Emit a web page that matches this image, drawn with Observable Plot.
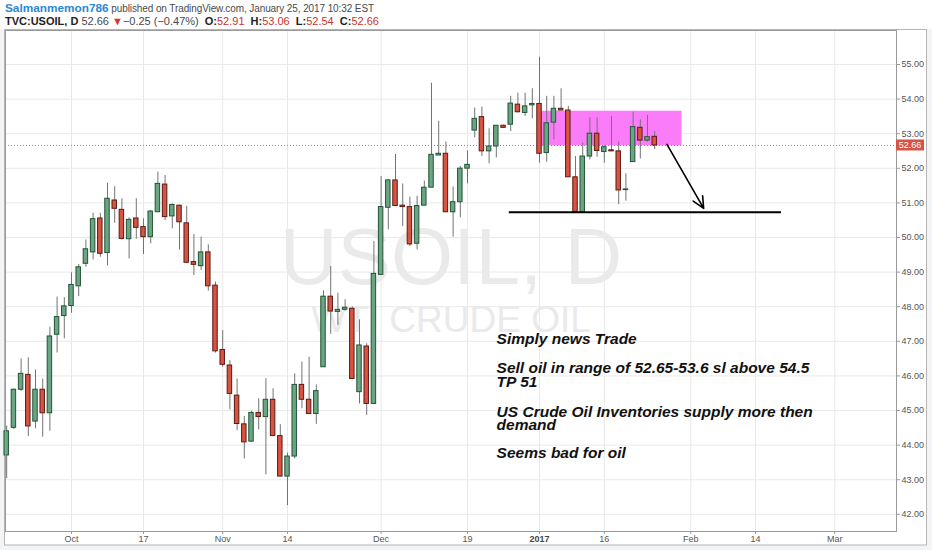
<!DOCTYPE html>
<html><head><meta charset="utf-8">
<script src="https://cdn.jsdelivr.net/npm/d3@7"></script>
<script src="https://cdn.jsdelivr.net/npm/@observablehq/plot@0.6"></script>
<style>
html,body{margin:0;padding:0;background:#f2f4f5;width:932px;height:550px;overflow:hidden;font-family:"Liberation Sans",Arial,sans-serif;}
#hdr{background:#fff;height:29px;width:932px;position:relative;font-size:11px;color:#4a4a4a;white-space:nowrap;}
#hdr .l1{position:absolute;left:5px;top:1px;font-size:10px;letter-spacing:-0.1px;}
#hdr .l2{position:absolute;left:5px;top:15px;}
#hdr b{color:#222;}
#hdr .g{margin-left:3px;}
#hdr .user{color:#2a88d2;font-weight:bold;font-size:11.8px;letter-spacing:0;}
#hdr .r{color:#c9352b;}
#chart{display:block;}
</style></head>
<body>
<div id="hdr">
  <div class="l1"><span class="user">Salmanmemon786</span> published on TradingView.com, January 25, 2017 10:32 EST</div>
  <div class="l2"><b>TVC:USOIL, D</b> 52.66 <span style="color:#e0302a">▼</span>−0.25 (−0.47%) <b class="g">O:</b><span class="r">52.91</span> <b class="g">H:</b><span class="r">53.06</span> <b class="g">L:</b><span class="r">52.54</span> <b class="g">C:</b><span class="r">52.66</span></div>
</div>
<div id="chart"></div>
<script>
// Daily candles (bar 1 = Sep 21 2016 ... bar 91 = Jan 25 2017)
const opens  = [43.70,44.50,45.60,46.03,44.68,45.60,44.92,47.19,47.73,48.02,48.59,49.24,49.57,50.55,49.55,51.07,50.80,49.95,50.55,50.30,
                50.01,50.73,51.53,50.61,50.92,50.41,49.29,49.17,49.57,48.61,46.75,46.30,45.43,44.60,44.10,44.93,44.81,45.31,44.26,43.09,
                43.67,45.74,45.31,44.90,46.25,48.29,47.85,47.91,47.94,45.53,46.85,45.19,48.92,50.86,51.65,50.92,50.88,49.82,50.92,51.44,
                52.37,52.42,50.73,51.02,51.99,53.09,53.48,52.49,52.63,53.23,53.26,53.84,53.60,53.82,53.86,52.44,53.32,53.72,53.67,51.74,
                50.73,52.34,53.00,52.47,52.52,52.49,51.37,52.18,53.17,52.80,52.91];
const highs  = [44.55,45.62,46.49,46.52,46.17,45.91,47.41,48.28,48.26,48.98,49.22,49.93,50.70,50.70,51.57,51.47,51.12,50.57,51.12,50.54,
                50.78,51.89,51.79,50.97,50.93,50.90,50.09,50.01,49.79,48.71,47.31,46.44,45.91,44.83,44.98,45.34,45.92,45.63,44.59,43.77,
                46.06,46.40,46.54,45.74,48.46,49.16,48.39,48.20,47.99,47.62,46.93,49.88,51.76,51.67,52.40,51.55,51.17,51.19,51.63,54.46,
                53.36,52.76,51.46,52.05,52.50,53.74,53.77,53.14,53.23,53.25,54.08,54.17,54.17,54.30,55.21,54.08,54.08,54.30,53.79,52.34,
                52.73,53.46,53.46,52.66,53.50,52.76,51.84,53.62,53.40,53.53,53.06];
const lows   = [43.03,44.45,45.55,44.25,44.47,44.23,44.40,46.66,47.07,47.81,48.29,49.14,49.35,49.43,49.18,50.41,49.93,49.38,49.95,49.51,
                49.82,50.73,50.49,50.25,49.64,49.25,48.90,49.05,48.45,46.66,46.25,45.02,44.42,43.60,44.08,44.44,43.14,44.26,43.09,42.25,
                43.60,45.05,44.90,44.60,46.25,47.20,47.46,47.87,45.91,45.19,44.86,45.19,48.92,50.22,50.91,50.32,49.74,49.64,50.92,51.44,
                52.37,50.73,50.01,50.57,51.55,52.88,52.34,52.13,52.30,53.15,53.06,53.60,53.50,53.43,52.15,52.18,52.82,53.67,51.74,50.73,
                50.73,52.24,52.32,52.15,52.49,50.95,51.05,52.18,52.27,52.76,52.54];
const closes = [44.40,45.60,46.06,44.54,45.60,44.92,47.14,47.70,48.01,48.63,49.14,49.66,50.53,49.53,51.12,50.83,49.96,50.51,50.28,50.01,
                50.75,51.55,50.59,50.94,50.44,49.27,49.21,49.57,48.59,46.71,46.32,45.48,44.61,44.08,44.93,44.81,45.31,44.26,43.09,43.67,
                45.74,45.31,44.90,45.56,48.29,47.86,47.91,47.97,45.91,46.88,45.19,48.95,50.88,51.65,50.91,50.88,49.80,50.91,51.44,52.39,
                52.42,50.73,51.02,51.99,52.10,53.43,52.49,52.63,53.23,53.17,53.87,53.62,53.79,53.86,52.42,53.30,53.72,53.67,51.74,50.73,
                52.34,53.00,52.50,52.61,52.49,51.36,51.39,53.19,52.80,52.90,52.66];

const tickBars   = [10, 20, 31, 40, 53, 65, 75, 84, 96, 105, 116];
const tickLabels = ["Oct","17","Nov","14","Dec","19","2017","16","Feb","14","Mar"];
const priceTicks = [42,43,44,45,46,47,48,49,50,51,52,53,54,55];
const lastPrice  = 52.66;

// Drawings
const sellZone    = [{bar1: 75, bar2: 94.8, low: 52.65, high: 53.65}];
const supportLine = [{bar1: 70.8, bar2: 108.6, price: 50.73}];
const targetArrow = [{bar1: 92.7, p1: 52.69, bar2: 97.8, p2: 50.84}];
const noteBar    = 69.04;
const noteTexts  = ["Simply news Trade",
                    "Sell oil in range of 52.65-53.6 sl above 54.5\nTP 51",
                    "US Crude Oil Inventories supply more then\ndemand",
                    "Seems bad for oil"];
const notePrices = [46.91, 45.69, 44.44, 43.62];

const candles = opens.map((o, k) => ({bar: k + 1, open: o, high: highs[k], low: lows[k], close: closes[k], up: closes[k] >= o}));
const notes = noteTexts.map((t, k) => ({text: t, price: notePrices[k]}));
const labelOf = new Map(tickBars.map((b, k) => [b, tickLabels[k]]));

const UP = "#6ba583", UPB = "#225437", DN = "#d75442", DNB = "#5b1a13";
const FONT = "Liberation Sans, Arial, sans-serif";

const chart = Plot.plot({
  width: 932, height: 521,
  marginLeft: 5, marginRight: 36, marginTop: 1, marginBottom: 19,
  style: {fontFamily: FONT, background: "transparent", overflow: "visible"},
  x: {type: "linear", domain: [0.833, 124.58], axis: null},
  y: {type: "linear", domain: [41.503, 55.983], axis: null},
  marks: [
    Plot.gridX(tickBars, {stroke: "#e9e9e9", strokeOpacity: 1}),
    Plot.gridY(priceTicks, {stroke: "#e9e9e9", strokeOpacity: 1}),
    Plot.text(["USOIL, D"], {frameAnchor: "middle", dy: -22.5, fontSize: 80, fill: "#eaeaea", fontFamily: FONT}),
    Plot.text(["WTI CRUDE OIL"], {frameAnchor: "middle", dy: 39, fontSize: 37, fill: "#eaeaea", fontFamily: FONT}),
    Plot.rect(sellZone, {x1: "bar1", x2: "bar2", y1: "low", y2: "high", fill: "#fb7cf9"}),
    Plot.ruleY([lastPrice], {stroke: "#dd6a57", strokeDasharray: "1,2", strokeWidth: 1}),
    Plot.ruleX(candles, {x: "bar", y1: "low", y2: "high", stroke: "#737375", strokeWidth: 1}),
    Plot.rect(candles, {x1: d => d.bar - 0.31, x2: d => d.bar + 0.31, y1: "open", y2: "close",
      fill: d => d.up ? UP : DN, stroke: d => d.up ? UPB : DNB, strokeWidth: 1}),
    Plot.ruleY(supportLine, {y: "price", x1: "bar1", x2: "bar2", stroke: "#000", strokeWidth: 2}),
    Plot.arrow(targetArrow, {x1: "bar1", y1: "p1", x2: "bar2", y2: "p2", stroke: "#000", strokeWidth: 1.6, headLength: 12, headAngle: 50}),
    Plot.text(notes, {x: () => noteBar, y: "price", text: "text", textAnchor: "start", lineAnchor: "bottom", lineHeight: 0.86,
      fontSize: 15.5, fontWeight: "bold", fontStyle: "italic", fill: "#111", fontFamily: FONT}),
    Plot.frame({stroke: "#9a9a9a"}),
    Plot.axisX(tickBars.filter(b => b !== 75), {anchor: "bottom", tickFormat: b => labelOf.get(b), tickSize: 3, tickPadding: 1.5, fontSize: 9, color: "#555", stroke: "#999"}),
    Plot.axisX([75], {anchor: "bottom", tickFormat: b => labelOf.get(b), tickSize: 3, tickPadding: 1.5, fontSize: 9, fontWeight: "bold", color: "#444", stroke: "#999"}),
    Plot.axisY(priceTicks, {anchor: "right", tickFormat: d => d.toFixed(2), tickSize: 3, tickPadding: 2, fontSize: 9, color: "#555", stroke: "#999"})
  ]
});

// chart frame (white panel) behind the plot
const svg = d3.select(chart);
svg.insert("rect", ":first-child")
  .attr("x", 4.5).attr("y", 0.5).attr("width", 922).attr("height", 515.5)
  .attr("fill", "#fff").attr("stroke", "#b5b5b5");

// last price label on the price scale
const yS = chart.scale("y");
const yp = yS.apply(lastPrice);
const g = svg.append("g");
g.append("rect").attr("x", 896).attr("y", yp - 5.5).attr("width", 28).attr("height", 11).attr("fill", DN);
g.append("text").attr("x", 910).attr("y", yp).attr("dy", "0.35em").attr("text-anchor", "middle")
  .attr("fill", "#fff").attr("font-size", 9).attr("font-family", FONT).text(lastPrice.toFixed(2));

document.getElementById("chart").appendChild(chart);
</script>
</body></html>
